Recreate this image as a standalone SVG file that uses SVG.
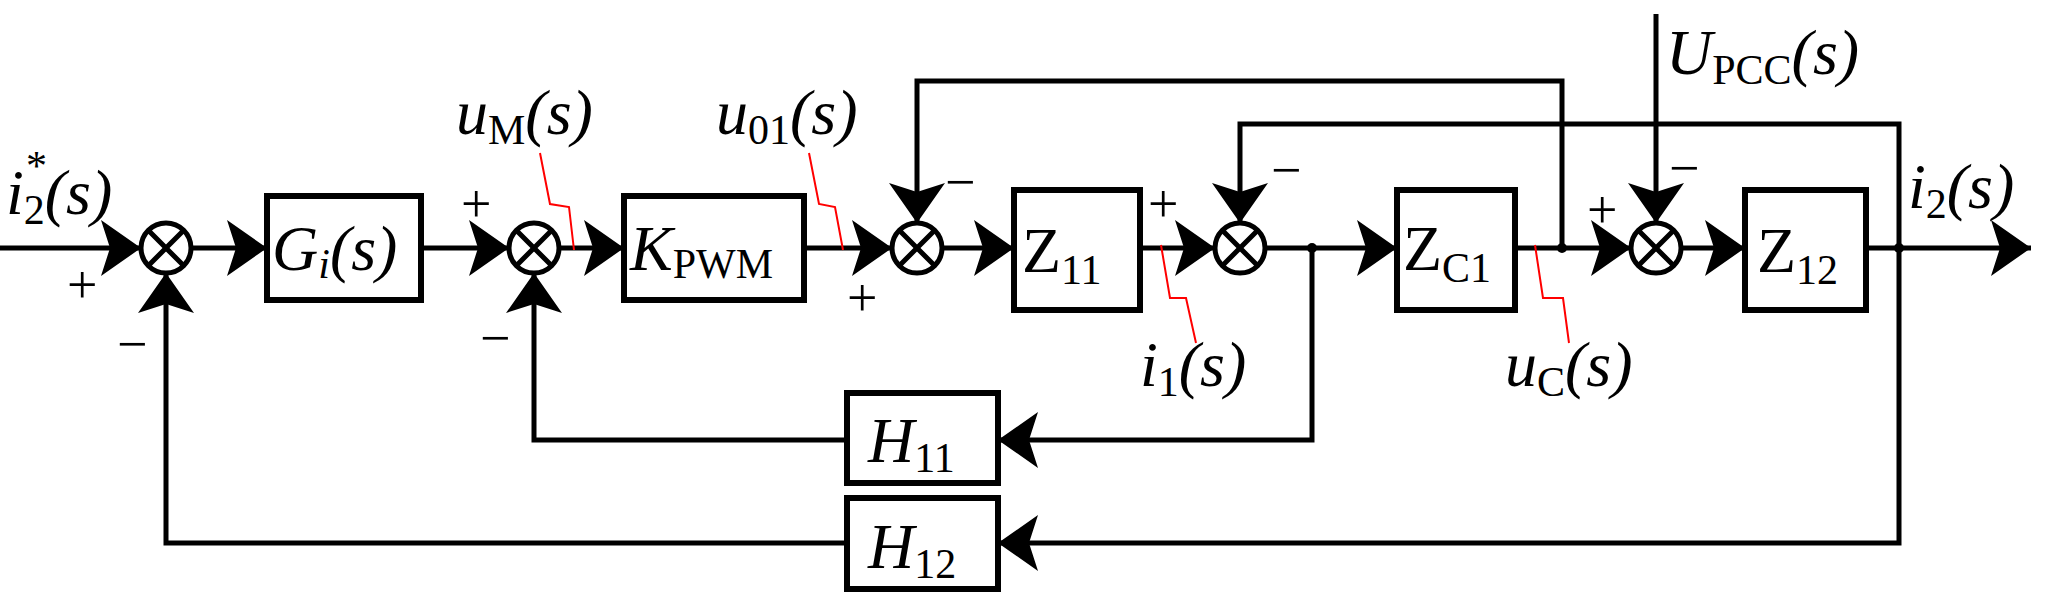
<svg xmlns="http://www.w3.org/2000/svg" width="2046" height="608" viewBox="0 0 2046 608">
<style>
.w{fill:none;stroke:#000;stroke-width:5}
.b{fill:#fff;stroke:#000;stroke-width:6}
.s{fill:#fff;stroke:#000;stroke-width:5}
.r{fill:none;stroke:#f00;stroke-width:2}
text{font-family:"Liberation Serif","Times New Roman",serif;font-size:64px;fill:#000}
.i{font-style:italic}
.sub{font-size:42px;font-style:normal}
.si{font-size:42px;font-style:italic}
.pm{font-size:54px}
</style>
<defs>
<marker id="a" markerUnits="userSpaceOnUse" markerWidth="44" markerHeight="60" refX="40" refY="28" orient="auto">
<path d="M0,0 L40,28 L0,56 L9,28 Z" fill="#000"/>
</marker>
<symbol id="x" overflow="visible">
<circle cx="0" cy="0" r="25" class="s"/>
<path d="M-17,-17 L17,17 M17,-17 L-17,17" stroke="#000" stroke-width="5"/>
</symbol>
</defs>
<rect width="2046" height="608" fill="#fff"/>
<g id="connectors">
<path class="w" d="M0,248 H141" marker-end="url(#a)"/>
<path class="w" d="M192,248 H267" marker-end="url(#a)"/>
<path class="w" d="M421,248 H509" marker-end="url(#a)"/>
<path class="w" d="M559,248 H624" marker-end="url(#a)"/>
<path class="w" d="M804,248 H892" marker-end="url(#a)"/>
<path class="w" d="M942,248 H1014" marker-end="url(#a)"/>
<path class="w" d="M1140,248 H1215" marker-end="url(#a)"/>
<path class="w" d="M1265,248 H1397" marker-end="url(#a)"/>
<path class="w" d="M1515,248 H1631" marker-end="url(#a)"/>
<path class="w" d="M1681,248 H1745" marker-end="url(#a)"/>
<path class="w" d="M1866,248 H2031" marker-end="url(#a)"/>
<path class="w" d="M1562,248 V81 H917 V223" marker-end="url(#a)"/>
<path class="w" d="M1899,248 V124 H1240 V223" marker-end="url(#a)"/>
<path class="w" d="M1656,14 V223" marker-end="url(#a)"/>
<path class="w" d="M1312,248 V440 H998" marker-end="url(#a)"/>
<path class="w" d="M847,440 H534 V273" marker-end="url(#a)"/>
<path class="w" d="M1899,248 V543 H998" marker-end="url(#a)"/>
<path class="w" d="M847,543 H166 V273" marker-end="url(#a)"/>
<circle cx="1312" cy="248" r="5"/>
<circle cx="1562" cy="248" r="5"/>
<circle cx="1899" cy="248" r="5"/>
<path class="r" d="M540,153 L550,204 L569,207 L574,250"/>
<path class="r" d="M809,153 L819,204 L835,207 L843,250"/>
<path class="r" d="M1161,245 L1170,298 L1186,298 L1196,343"/>
<path class="r" d="M1535,245 L1543,298 L1563,298 L1569,343"/>
</g>
<g id="sum1"><use href="#x" x="166" y="248"/></g>
<g id="sum2"><use href="#x" x="534" y="248"/></g>
<g id="sum3"><use href="#x" x="917" y="248"/></g>
<g id="sum4"><use href="#x" x="1240" y="248"/></g>
<g id="sum5"><use href="#x" x="1656" y="248"/></g>
<g id="Gi"><rect class="b" x="267" y="196" width="154" height="104"/><text x="272" y="270" class="i">G<tspan class="si" dy="8">i</tspan><tspan dy="-8">(s)</tspan></text></g>
<g id="KPWM"><rect class="b" x="624" y="196" width="180" height="104"/><text x="630" y="270" class="i">K<tspan class="sub" dy="8">PWM</tspan></text></g>
<g id="Z11"><rect class="b" x="1014" y="190" width="126" height="120"/><text x="1022" y="272">Z<tspan class="sub" dy="12">11</tspan></text></g>
<g id="ZC1"><rect class="b" x="1397" y="190" width="118" height="120"/><text x="1403" y="270">Z<tspan class="sub" dy="12">C1</tspan></text></g>
<g id="Z12"><rect class="b" x="1745" y="190" width="121" height="120"/><text x="1757" y="272">Z<tspan class="sub" dy="12">12</tspan></text></g>
<g id="H11"><rect class="b" x="847" y="393" width="151" height="90"/><text x="868" y="462" class="i">H<tspan class="sub" dy="10">11</tspan></text></g>
<g id="H12"><rect class="b" x="847" y="498" width="151" height="91"/><text x="868" y="568" class="i">H<tspan class="sub" dy="10">12</tspan></text></g>
<g id="labels">
<text x="6" y="214" class="i">i<tspan class="sub" dy="10">2</tspan><tspan dy="-10">(s)</tspan></text>
<text x="24" y="180" class="si">*</text>
<text x="456" y="134" class="i">u<tspan class="sub" dy="10">M</tspan><tspan dy="-10">(s)</tspan></text>
<text x="716" y="134" class="i">u<tspan class="sub" dy="10">01</tspan><tspan dy="-10">(s)</tspan></text>
<text x="1140" y="386" class="i">i<tspan class="sub" dy="10">1</tspan><tspan dy="-10">(s)</tspan></text>
<text x="1505" y="386" class="i">u<tspan class="sub" dy="10">C</tspan><tspan dy="-10">(s)</tspan></text>
<text x="1666" y="74" class="i">U<tspan class="sub" dy="10">PCC</tspan><tspan dy="-10">(s)</tspan></text>
<text x="1908" y="208" class="i">i<tspan class="sub" dy="10">2</tspan><tspan dy="-10">(s)</tspan></text>
<text class="pm" x="67" y="303">+</text>
<text class="pm" x="117" y="362">−</text>
<text class="pm" x="461" y="222">+</text>
<text class="pm" x="480" y="356">−</text>
<text class="pm" x="847" y="316">+</text>
<text class="pm" x="945" y="200">−</text>
<text class="pm" x="1148" y="222">+</text>
<text class="pm" x="1271" y="188">−</text>
<text class="pm" x="1587" y="228">+</text>
<text class="pm" x="1669" y="186">−</text>
</g>
</svg>
